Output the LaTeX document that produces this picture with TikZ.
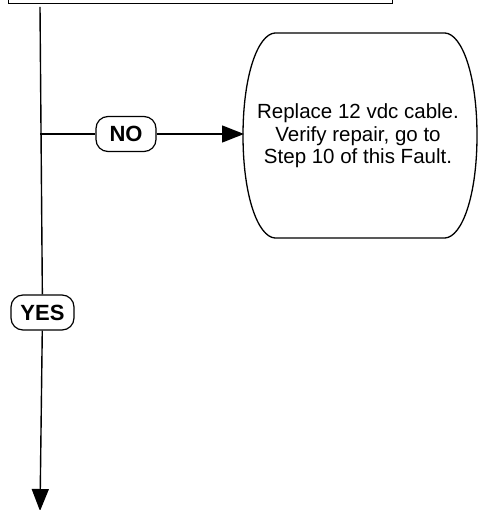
\documentclass[tikz,border=0pt]{standalone}
\usepackage{fontspec}
\setmainfont{Liberation Sans}
\usetikzlibrary{arrows.meta}
\tikzset{
  conn/.style={line width=1.4pt, -{Triangle[length=22pt,width=17pt]}},
  plain/.style={line width=1.4pt},
  lbl/.style={draw, line width=1.2pt, rounded corners=12pt, fill=white, font=\fontsize{22}{24}\selectfont\bfseries, inner sep=0pt, minimum height=35pt},
}
\begin{document}
\begin{tikzpicture}[x=1pt,y=-1pt]
\useasboundingbox (0,0) rectangle (478,510);
\clip (0,0) rectangle (478,510);
% top box (partly outside)
\node[draw, line width=1.4pt, minimum width=384pt, minimum height=60pt, anchor=south west, inner sep=0pt] (top) at (8,4) {};
\coordinate (start) at (40,7);
\coordinate (branch) at (40,134);
\coordinate (endp) at (40,511);
% action shape
\draw[line width=1.3pt] (275,33) -- (445,33) .. controls (462,34) and (477,75) .. (477,135.5)
  .. controls (477,196) and (462,237) .. (445,238) -- (275,238)
  .. controls (258,237) and (243,196) .. (243,135.5)
  .. controls (243,75) and (258,34) .. (275,33) -- cycle;
\node[align=center, font=\fontsize{20.5}{22.5}\selectfont] (act) at (358,136) {Replace 12 vdc cable.\\Verify repair, go to\\Step 10 of this Fault.};
\coordinate (actw) at (244,134);
% labels
\node[lbl, minimum width=60pt] (no) at (126,134) {NO};
\node[lbl, minimum width=63pt] (yes) at (42.5,312.5) {YES};
% connectors
\draw[plain] (start) -- (yes);
\draw[conn] (yes) -- (endp);
\draw[plain] (branch) -- (no);
\draw[conn] (no) -- (actw);
\end{tikzpicture}
\end{document}
